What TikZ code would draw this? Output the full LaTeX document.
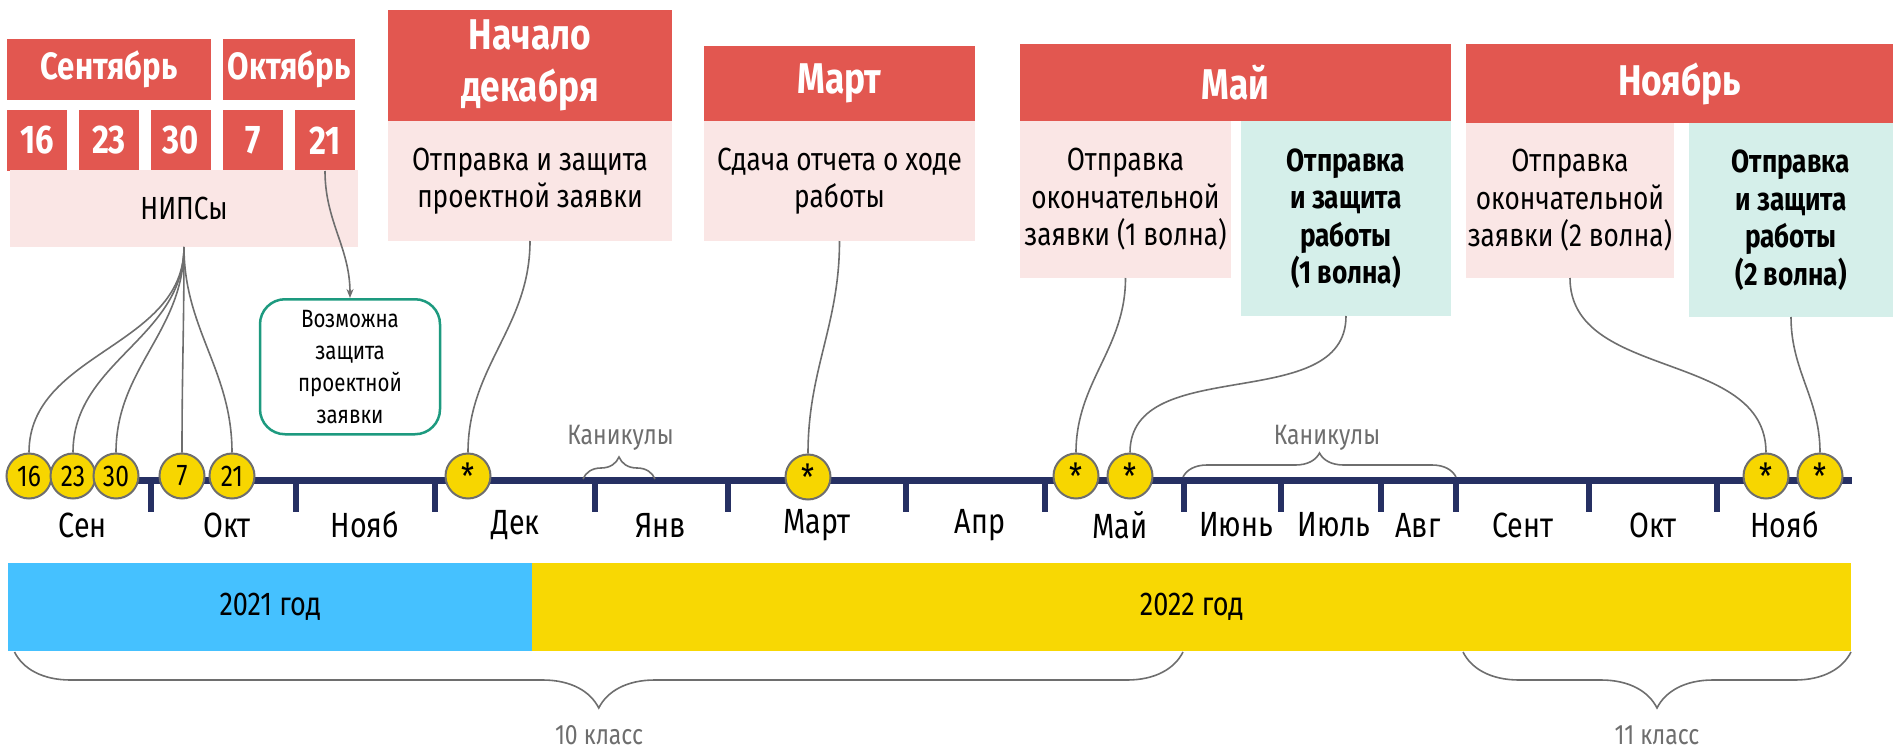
\documentclass[tikz,border=0pt]{standalone}
\usepackage{fontspec}
\setmainfont{Fira Sans}[FakeStretch=0.82]
\usetikzlibrary{arrows.meta,decorations.pathreplacing}
\definecolor{hred}{RGB}{226,87,80}
\definecolor{hpink}{RGB}{250,230,229}
\definecolor{hteal}{RGB}{213,239,234}
\definecolor{tborder}{RGB}{29,154,127}
\definecolor{cyell}{RGB}{247,214,0}
\definecolor{byell}{RGB}{248,216,3}
\definecolor{bblue}{RGB}{69,193,255}
\definecolor{navy}{RGB}{38,48,99}
\definecolor{lgray}{RGB}{110,110,110}
\newcommand\fHdr{\bfseries\fontsize{38}{48}\selectfont}
\newcommand\fHdrL{\bfseries\fontsize{43}{49}\selectfont}
\newcommand\fDay{\bfseries\fontsize{40}{48}\selectfont}
\newcommand\fBody{\fontsize{32}{37.5}\selectfont}
\newcommand\fBodyB{\bfseries\fontsize{32}{37.5}\selectfont}
\newcommand\fMon{\fontsize{35}{40}\selectfont}
\newcommand\fCirc{\fontsize{30}{32}\selectfont}
\newcommand\fStar{\fontsize{36}{36}\selectfont}
\newcommand\fSmall{\fontsize{25}{32}\selectfont}
\newcommand\fGray{\fontsize{28}{32}\selectfont}
\newcommand\fYear{\fontsize{33}{36}\selectfont}
\tikzset{
  redbox/.style={fill=hred, text=white, font=\fHdr, inner sep=0pt, outer sep=0pt, anchor=north west, align=center},
  bigred/.style={redbox, font=\fHdrL},
  daybox/.style={redbox, font=\fDay, minimum width=60pt, minimum height=61pt},
  pinkbox/.style={fill=hpink, text=black, font=\fBody, inner sep=0pt, outer sep=0pt, anchor=north west, align=center},
  tealbox/.style={fill=hteal, text=black, font=\fBodyB, inner sep=0pt, outer sep=0pt, anchor=north west, align=center},
  conn/.style={draw=lgray, line width=1.6pt},
  dot/.style={circle, fill=cyell, draw=lgray, line width=2pt, minimum size=45pt, inner sep=0pt, font=\fCirc},
  stardot/.style={dot, font=\fStar},
  mon/.style={font=\fMon, inner sep=0pt},
  tick/.style={navy, line width=6pt},
  graytext/.style={font=\fGray, text=lgray, inner sep=0pt},
  brc/.style={draw=lgray, line width=1.6pt, decorate},
}
\begin{document}
\begin{tikzpicture}[x=1pt,y=-1pt]
\useasboundingbox (0,0) rectangle (1893,752);
% top left
\node[redbox, minimum width=204pt, minimum height=61pt] (sep) at (7,39) {Сентябрь};
\node[redbox, minimum width=132pt, minimum height=61pt] (okt) at (223,39) {Октябрь};
\node[daybox] (d16) at (7,110) {16};
\node[daybox] (d23) at (79,110) {23};
\node[daybox] (d30) at (151,110) {30};
\node[daybox] (d7) at (223,110) {7};
\node[daybox] (d21) at (295,110) {21};
\node[pinkbox, minimum width=348pt, minimum height=77pt] (nips) at (10,170) {НИПСы};
% Dec
\node[bigred, minimum width=284pt, minimum height=111pt] (decr) at (388,10) {Начало\\[3pt]декабря};
\node[pinkbox, minimum width=284pt, minimum height=120pt] (decp) at (388,121) {Отправка и защита\\проектной заявки};
% March
\node[bigred, minimum width=271pt, minimum height=75pt] (marr) at (704,46) {Март};
\node[pinkbox, minimum width=271pt, minimum height=120pt] (marp) at (704,121) {Сдача отчета о ходе\\работы};
% May
\node[bigred, minimum width=431pt, minimum height=77pt] (mayr) at (1020,44) {Май};
\node[pinkbox, minimum width=211pt, minimum height=157pt] (mayp) at (1020,121) {Отправка\\окончательной\\заявки (1 волна)};
\node[tealbox, minimum width=210pt, minimum height=195pt] (mayt) at (1241,121) {Отправка\\и защита\\работы\\(1 волна)};
% November
\node[bigred, minimum width=427pt, minimum height=79pt] (novr) at (1466,44) {Ноябрь};
\node[pinkbox, minimum width=208pt, minimum height=155pt] (novp) at (1466,123) {Отправка\\окончательной\\заявки (2 волна)};
\node[tealbox, minimum width=204pt, minimum height=194pt] (novt) at (1689,123) {Отправка\\и защита\\работы\\(2 волна)};
% possible defence box
\node[draw=tborder, line width=2.5pt, fill=white, rounded corners=25pt, minimum width=180pt, minimum height=135pt, inner sep=0pt, align=center, font=\fSmall, anchor=north] (poss) at (350,298) {Возможна\\защита\\проектной\\заявки};
% axis
\coordinate (axL) at (10,480);
\coordinate (axR) at (1852,480);
\draw[navy, line width=7pt] (axL) -- (axR);
\foreach \t in {151,295.5,435,594.6,728,906,1045,1183.5,1281,1380.5,1456,1589,1717}{
  \draw[tick] (\t,482) -- (\t,512);
}
% month labels
\node[mon] (m1) at (82.6,525) {Сен};
\node[mon] (m2) at (227,525) {Окт};
\node[mon] (m3) at (365,525) {Нояб};
\node[mon] (m4) at (515.6,525) {Дек};
\node[mon] (m5) at (660.6,525) {Янв};
\node[mon] (m6) at (817,525) {Март};
\node[mon] (m7) at (980,525) {Апр};
\node[mon] (m8) at (1120,525) {Май};
\node[mon] (m9) at (1236,525) {Июнь};
\node[mon] (m10) at (1334,525) {Июль};
\node[mon] (m11) at (1418,525) {Авг};
\node[mon] (m12) at (1523,525) {Сент};
\node[mon] (m13) at (1653,525) {Окт};
\node[mon] (m14) at (1784.6,525) {Нояб};
% holidays
\coordinate (h1a) at (583,479);
\coordinate (h1b) at (655,479);
\draw[brc, decoration={brace, amplitude=22pt}] (h1a) -- (h1b);
\node[graytext] (hol1) at (620.5,438) {Каникулы};
\coordinate (h2a) at (1183,477);
\coordinate (h2b) at (1456,477);
\draw[brc, decoration={brace, amplitude=24pt}] (h2a) -- (h2b);
\node[graytext] (hol2) at (1327,438) {Каникулы};
% circles
\node[dot] (c16) at (29,476) {16};
\node[dot] (c23) at (73,476) {23};
\node[dot] (c30) at (116,476) {30};
\node[dot] (c7) at (182,476) {7};
\node[dot] (c21) at (232,476) {21};
\node[stardot] (cdec) at (468,476) {*};
\node[stardot] (cmar) at (808,477) {*};
\node[stardot] (cmay1) at (1076,476) {*};
\node[stardot] (cmay2) at (1130,476) {*};
\node[stardot] (cnov1) at (1766,476) {*};
\node[stardot] (cnov2) at (1820,476) {*};
% connectors
\draw[conn] (nips.south) to[out=-90,in=90] (c16.north);
\draw[conn] (nips.south) to[out=-90,in=90] (c23.north);
\draw[conn] (nips.south) to[out=-90,in=90] (c30.north);
\draw[conn] (nips.south) to[out=-90,in=90] (c7.north);
\draw[conn] (nips.south) to[out=-90,in=90] (c21.north);
\draw[conn, -{Stealth[length=9pt,width=7pt]}] (d21.south) to[out=-90,in=90] (poss.north);
\draw[conn] (decp.south) to[out=-90,in=90] (cdec.north);
\draw[conn] (marp.south) to[out=-90,in=90] (cmar.north);
\draw[conn] (mayp.south) to[out=-90,in=90] (cmay1.north);
\draw[conn] (mayt.south) to[out=-90,in=90] (cmay2.north);
\draw[conn] (novp.south) to[out=-90,in=90] (cnov1.north);
\draw[conn] (novt.south) to[out=-90,in=90] (cnov2.north);
% year bars
\node[fill=bblue, minimum width=524pt, minimum height=88pt, inner sep=0pt, anchor=north west, font=\fYear] (y21) at (8,563) {2021 год};
\node[fill=byell, minimum width=1319pt, minimum height=88pt, inner sep=0pt, anchor=north west, font=\fYear] (y22) at (532,563) {2022 год};
% class braces
\coordinate (b10a) at (14.5,652);
\coordinate (b10b) at (1183,652);
\draw[brc, decoration={brace, amplitude=56pt, mirror}] (b10a) -- (b10b);
\node[graytext] (k10) at (599,735) {10 класс};
\coordinate (b11a) at (1463,652);
\coordinate (b11b) at (1851,652);
\draw[brc, decoration={brace, amplitude=56pt, mirror}] (b11a) -- (b11b);
\node[graytext] (k11) at (1657,735) {11 класс};
\end{tikzpicture}
\end{document}
